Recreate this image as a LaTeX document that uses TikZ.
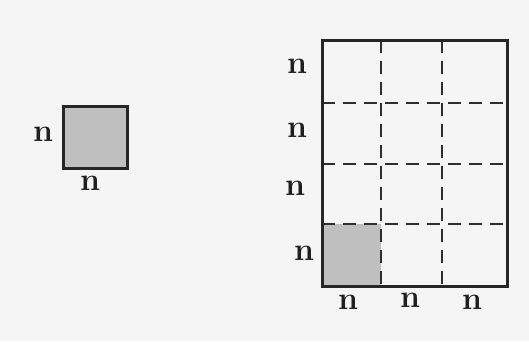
\documentclass[tikz,border=0pt]{standalone}
\begin{document}
\begin{tikzpicture}[x=1pt,y=-1pt,
  solidline/.style={line width=3pt, draw=black!85},
  dashline/.style={line width=2.4pt, draw=black!82, dash pattern=on 13pt off 8pt},
  shade/.style={fill=black!25},
  lbl/.style={font=\fontsize{32}{32}\selectfont\bfseries, text=black!88, inner sep=0pt}]
\fill[black!4] (0,0) rectangle (529,341);
\useasboundingbox (0,0) rectangle (529,341);
% small square
\coordinate (s1) at (63,106);
\coordinate (s2) at (127,168);
\filldraw[shade, solidline] (s1) rectangle (s2);
\node[lbl] (sl) at (43,134) {n};
\node[lbl] (sb) at (90,183) {n};
% big grid
\coordinate (g1) at (322,40);
\coordinate (g2) at (507,286);
\fill[shade] (322,224) rectangle (381,286);
\draw[dashline] (322,103) coordinate (h1a) -- (507,103) coordinate (h1b);
\draw[dashline] (322,164) coordinate (h2a) -- (507,164) coordinate (h2b);
\draw[dashline] (322,224) coordinate (h3a) -- (507,224) coordinate (h3b);
\draw[dashline] (381,40) coordinate (v1a) -- (381,286) coordinate (v1b);
\draw[dashline] (442,40) coordinate (v2a) -- (442,286) coordinate (v2b);
\draw[solidline] (g1) rectangle (g2);
\node[lbl] (l1) at (297,66) {n};
\node[lbl] (l2) at (297,130) {n};
\node[lbl] (l3) at (295,188) {n};
\node[lbl] (l4) at (304,253) {n};
\node[lbl] (b1) at (348,302) {n};
\node[lbl] (b2) at (410,300) {n};
\node[lbl] (b3) at (472,302) {n};
\end{tikzpicture}
\end{document}
